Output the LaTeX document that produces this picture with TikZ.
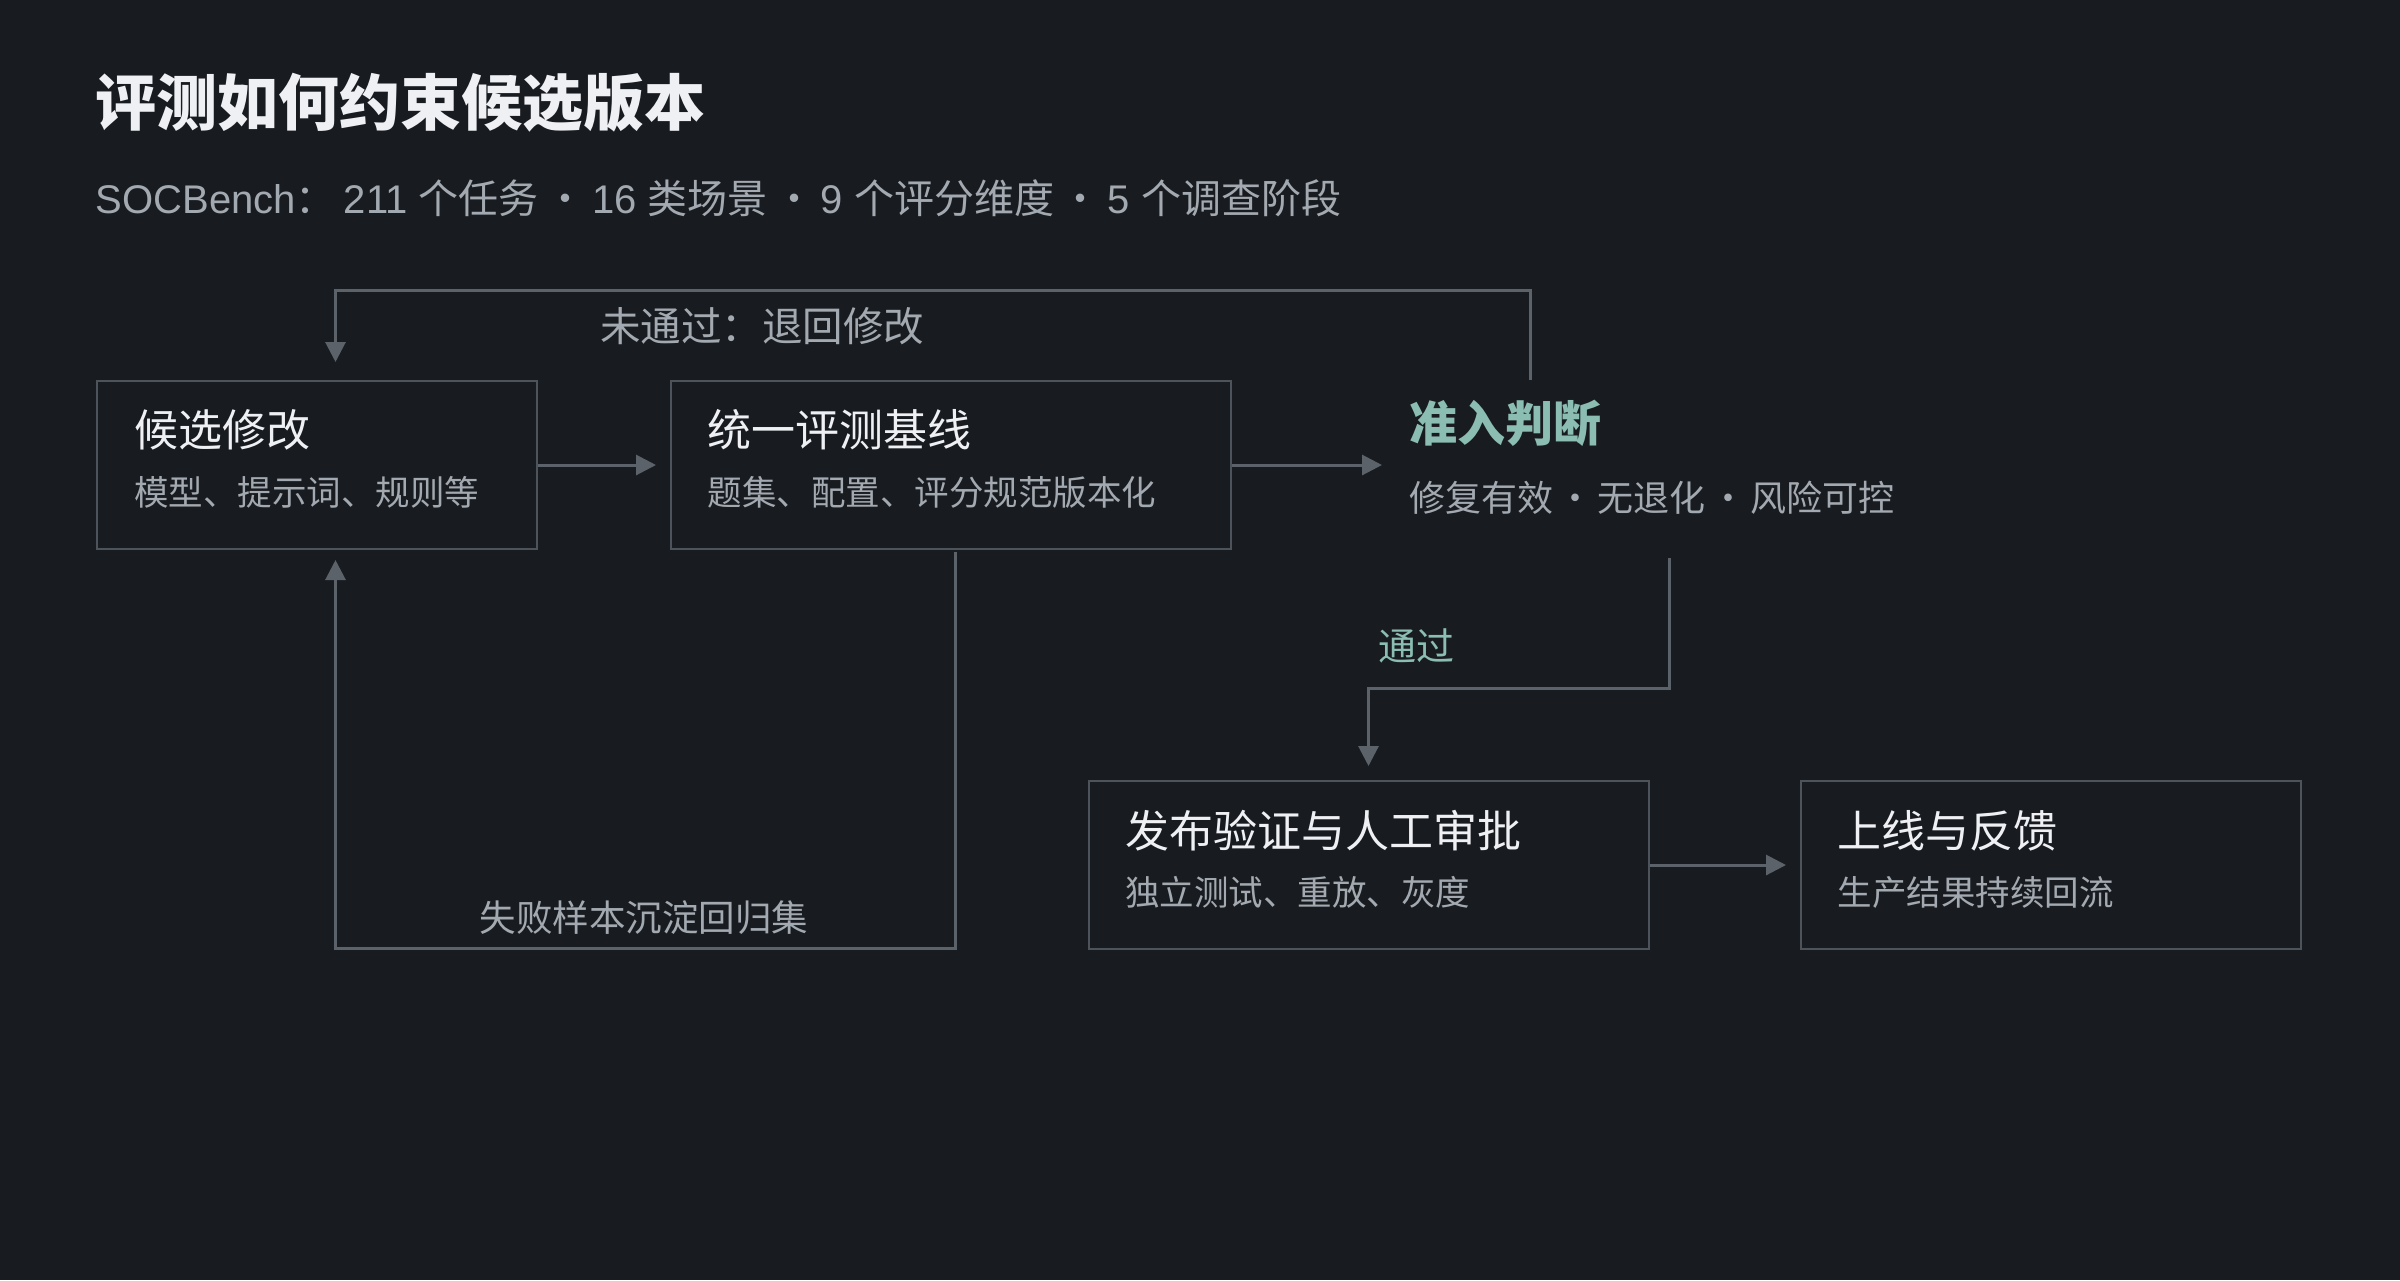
\documentclass[tikz,border=0pt]{standalone}
\usepackage{fontspec}
\setmainfont{Noto Sans CJK SC}
\newfontfamily\latf{Liberation Sans}
\usetikzlibrary{arrows.meta}
\definecolor{bg}{HTML}{181B20}
\definecolor{bordc}{HTML}{4D535B}
\definecolor{linec}{HTML}{5B626A}
\definecolor{titlec}{HTML}{EEF0F3}
\definecolor{subc}{HTML}{A3A9B0}
\definecolor{tealc}{HTML}{8BBDB3}
\newcommand{\sepdot}[1][0.1667em]{\hspace{#1}·\hspace{#1}}
\tikzset{
  stagebox/.style={draw=bordc, line width=2pt, rectangle, inner sep=0pt, minimum height=168pt, anchor=north west},
  boxtitle/.style={anchor=west, inner sep=0pt, text=titlec, font=\fontsize{44pt}{52pt}\selectfont},
  boxsub/.style={anchor=west, inner sep=0pt, text=subc, font=\fontsize{34.5pt}{40pt}\selectfont},
  lbl/.style={inner sep=0pt, text=subc, font=\fontsize{38pt}{44pt}\selectfont},
  conn/.style={draw=linec, line width=3pt, -{Triangle[length=20pt,width=20pt]}},
}
\begin{document}
\begin{tikzpicture}[x=1pt,y=-1pt]
\fill[bg] (0,0) rectangle (2400,1280);
\useasboundingbox (0,0) rectangle (2400,1280);

% heading
\node[anchor=west, inner sep=0pt, text=titlec, font=\fontsize{61pt}{70pt}\selectfont\bfseries] (title) at (95.5,102.5) {评测如何约束候选版本};
\node[anchor=west, inner sep=0pt, text=subc, font=\fontsize{40pt}{46pt}\selectfont] (subtitle) at (95.5,198.5) {{\latf SOCBench}：\hspace{0.2em}{\latf 211 }个任务\sepdot{\latf 16 }类场景\sepdot{\latf 9 }个评分维度\sepdot{\latf 5 }个调查阶段};

% boxes
\node[stagebox, minimum width=440pt] (box1) at (95.5,380) {};
\node[stagebox, minimum width=560pt] (box2) at (670,380) {};
\node[draw=none, inner sep=0pt, minimum width=548pt, minimum height=178pt, anchor=north west] (judge) at (1396,380) {};
\node[stagebox, minimum width=560pt] (box3) at (1087.5,780) {};
\node[stagebox, minimum width=500pt] (box4) at (1800,780) {};

\node[boxtitle] (box1t) at ([shift={(38.5,50)}]box1.north west) {候选修改};
\node[boxsub] (box1s) at ([shift={(38.5,112)}]box1.north west) {模型、提示词、规则等};
\node[boxtitle] (box2t) at ([shift={(37.5,50)}]box2.north west) {统一评测基线};
\node[boxsub] (box2s) at ([shift={(37.5,112)}]box2.north west) {题集、配置、评分规范版本化};
\node[boxtitle] (box3t) at ([shift={(37.5,51)}]box3.north west) {发布验证与人工审批};
\node[boxsub] (box3s) at ([shift={(37.5,112)}]box3.north west) {独立测试、重放、灰度};
\node[boxtitle] (box4t) at ([shift={(37.5,51)}]box4.north west) {上线与反馈};
\node[boxsub] (box4s) at ([shift={(37.5,112)}]box4.north west) {生产结果持续回流};

\node[anchor=west, inner sep=0pt, text=tealc, font=\fontsize{48pt}{54pt}\selectfont\bfseries] (judget) at ([shift={(13,43.5)}]judge.north west) {准入判断};
\node[anchor=west, inner sep=0pt, text=subc, font=\fontsize{36pt}{42pt}\selectfont] (judges) at ([shift={(13,117.5)}]judge.north west) {修复有效\sepdot[0.12em]无退化\sepdot[0.12em]风险可控};

% helper coordinates
\coordinate (lx) at (335.5,0);
\coordinate (jx) at (1530.5,0);
\coordinate (topcorner) at (335.5,290);
\coordinate (bx) at (955.5,0);
\coordinate (botcorner) at (955.5,948);
\coordinate (dx) at (1669.5,0);
\coordinate (midcorner) at (1669.5,688);

% connectors
\draw[conn, shorten >=14pt] (box1.east) -- (box2.west);
\draw[conn, shorten >=14pt] (box2.east) -- (box2.east -| judge.west);
\draw[conn, shorten >=14pt] (box3.east) -- (box4.west);
\draw[conn, shorten >=18pt] (judge.north -| jx) |- (topcorner) -- (box1.north -| lx);
\draw[conn, shorten <=2pt, shorten >=10pt] (box2.south -| bx) -- (botcorner) -| (box1.south -| lx);
\draw[conn, shorten >=14pt] (judge.south -| dx) -- (midcorner) -| (box3.north);

% connector labels
\node[lbl, anchor=west, font=\fontsize{40.5pt}{46pt}\selectfont] (lfail) at (600,326) {未通过：退回修改};
\node[lbl, text=tealc] (lpass) at (1416,646) {通过};
\node[lbl, font=\fontsize{36.5pt}{42pt}\selectfont] (lsink) at (644,917.5) {失败样本沉淀回归集};
\end{tikzpicture}
\end{document}
